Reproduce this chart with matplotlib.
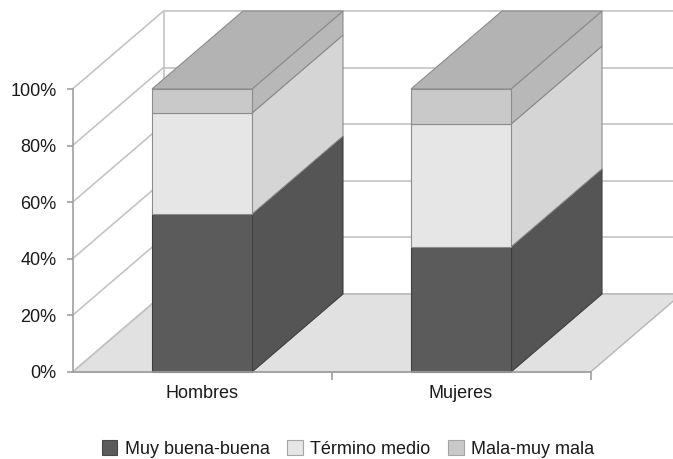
import matplotlib
matplotlib.use("Agg")
import matplotlib.pyplot as plt
from matplotlib.patches import Polygon, Patch

plt.rcParams['font.family'] = ['Liberation Sans', 'DejaVu Sans']

categories = ["Hombres", "Mujeres"]
series_names = ["Muy buena-buena", "Término medio", "Mala-muy mala"]
muy_buena = [55.8, 44.2]
termino_medio = [35.7, 43.4]
mala = [8.5, 12.4]
series = [muy_buena, termino_medio, mala]
y_ticks = [0, 20, 40, 60, 80, 100]
y_tick_labels = ["0%", "20%", "40%", "60%", "80%", "100%"]

front_colors = ["#5b5b5b", "#e6e6e6", "#c9c9c9"]
side_colors = ["#555555", "#d5d5d5", "#b8b8b8"]
top_color = "#b3b3b3"
edge_colors = ["#3e3e3e", "#8c8c8c", "#8c8c8c"]
legend_edges = ["#4a4a4a", "#a5a5a5", "#a5a5a5"]
grid_color = "#c4c4c4"

W, H = 673, 459
fig = plt.figure(figsize=(W / 100, H / 100), dpi=100)
ax = fig.add_axes([72.5 / W, (H - 372) / H, 518 / W, 283 / H])
x_min, x_max = -0.5, len(categories) - 0.5
ax.set_xlim(x_min, x_max)
ax.set_ylim(0, 100)

# oblique depth offset (data units)
dx = 91 / 259
dy = 78 / 283 * 100
bar_w = 100 / 259

# back wall gridlines and back corner
for v in y_ticks:
    ax.plot([x_min + dx, x_max + dx + 1], [v + dy, v + dy], color=grid_color, lw=1.2,
            clip_on=False, zorder=0.5)
ax.plot([x_min + dx, x_min + dx], [dy, 100 + dy], color=grid_color, lw=1.2, clip_on=False, zorder=0.5)

# floor
floor = Polygon([(x_min, 0), (x_max, 0), (x_max + dx, dy), (x_min + dx, dy)], closed=True,
                facecolor="#e1e1e1", edgecolor="#b5b5b5", lw=1.0, clip_on=False, zorder=0.6)
ax.add_patch(floor)

# left wall gridlines
for v in y_ticks:
    ax.plot([x_min, x_min + dx], [v, v + dy], color=grid_color, lw=1.2, clip_on=False, zorder=0.7)

# bars
for i, cat in enumerate(categories):
    x0 = i - bar_w / 2
    x1 = i + bar_w / 2
    base = 0.0
    for s, vals in enumerate(series):
        top = base + vals[i]
        side = Polygon([(x1, base), (x1 + dx, base + dy), (x1 + dx, top + dy), (x1, top)], closed=True,
                       facecolor=side_colors[s], edgecolor=edge_colors[s], lw=0.8, clip_on=False, zorder=1)
        front = Polygon([(x0, base), (x1, base), (x1, top), (x0, top)], closed=True,
                        facecolor=front_colors[s], edgecolor=edge_colors[s], lw=0.8, clip_on=False, zorder=1.1)
        ax.add_patch(side)
        ax.add_patch(front)
        base = top
    topface = Polygon([(x0, base), (x1, base), (x1 + dx, base + dy), (x0 + dx, base + dy)], closed=True,
                      facecolor=top_color, edgecolor="#8c8c8c", lw=0.8, clip_on=False, zorder=1.2)
    ax.add_patch(topface)

# axes styling
for sp in ["top", "right"]:
    ax.spines[sp].set_visible(False)
for sp in ["left", "bottom"]:
    ax.spines[sp].set_color("#a0a0a0")
    ax.spines[sp].set_linewidth(1.2)
ax.set_facecolor("none")
ax.set_yticks(y_ticks)
ax.set_yticklabels(y_tick_labels, fontsize=13, color="#1a1a1a")
ax.tick_params(axis="y", length=4.5, width=1.2, color="#a0a0a0", pad=7)
ax.set_xticks(range(len(categories)))
ax.set_xticklabels(categories, fontsize=13, color="#1a1a1a")
ax.tick_params(axis="x", which="major", length=0, pad=9)
ax.set_xticks([x + 0.5 for x in range(len(categories))], minor=True)
ax.tick_params(axis="x", which="minor", length=6, width=1.2, color="#a0a0a0")

handles = [Patch(facecolor=front_colors[s], edgecolor=legend_edges[s], lw=0.8, label=series_names[s])
           for s in range(3)]
fig.legend(handles=handles, loc="center", bbox_to_anchor=(348 / W, 10 / H), ncol=3, frameon=False,
           fontsize=13, handlelength=0.85, handleheight=0.85, handletextpad=0.4, columnspacing=1.0,
           labelcolor="#1a1a1a", borderpad=0)

fig.savefig("out.png", dpi=100)
